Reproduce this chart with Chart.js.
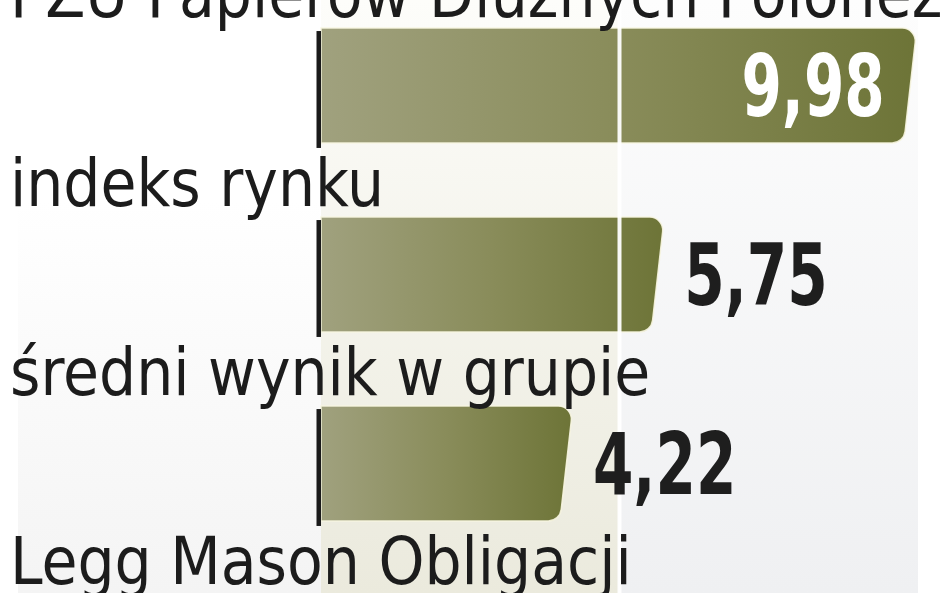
<!DOCTYPE html>
<html>
<head>
<meta charset="utf-8">
<script src="https://cdn.jsdelivr.net/npm/chart.js@4"></script>
<style>
  html, body { margin: 0; padding: 0; background: #ffffff; overflow: hidden; width: 948px; height: 593px; }
  #wrap { position: relative; width: 948px; height: 593px; overflow: hidden; }
  #c { position: absolute; left: 0; top: -9px; }
</style>
</head>
<body>
<div id="wrap"><canvas id="c" width="948" height="756"></canvas></div>
<script>
// ---- data ----
const categories = ['PZU Papierów Dłużnych Polonez', 'indeks rynku', 'średni wynik w grupie', 'Legg Mason Obligacji'];
const values = [9.98, 5.75, 4.22, null];
const xTicks = [0, 5, 10];

// ---- font helpers ----
function hasFont(name) {
  const ctx = document.createElement('canvas').getContext('2d');
  const s = 'abcdefghijklmnopqrstuvwxyz0123456789,';
  ctx.font = '72px monospace';
  const a = ctx.measureText(s).width;
  ctx.font = '72px "' + name + '", monospace';
  return Math.abs(ctx.measureText(s).width - a) > 0.5;
}
const narrow = hasFont('Liberation Sans Narrow');
const valueFamily = narrow ? '"Liberation Sans Narrow"' : '"DejaVu Sans Condensed"';
const valueScaleX = narrow ? 1 : 0.76;
const labelFont = '65px "DejaVu Sans Condensed", "DejaVu Sans", sans-serif';
const valueFont = 'bold 85px ' + valueFamily + ', sans-serif';

function fmt(v) { return v.toFixed(2).replace('.', ','); }

const backgroundPlugin = {
  id: 'bg',
  beforeDraw(chart) {
    const { ctx, scales } = chart;
    const off = 9; // canvas is shifted 9px up
    const H = chart.height;
    const x0 = scales.x.getPixelForValue(xTicks[0]);
    const x5 = scales.x.getPixelForValue(xTicks[1]);
    const x10 = scales.x.getPixelForValue(xTicks[2]);
    ctx.save();
    ctx.fillStyle = '#ffffff';
    ctx.fillRect(0, 0, chart.width, H);
    let g = ctx.createLinearGradient(0, off + 200, 0, off + 593);
    g.addColorStop(0, '#ffffff');
    g.addColorStop(1, '#f4f4f4');
    ctx.fillStyle = g;
    ctx.fillRect(18, 0, x0 - 18, H);
    g = ctx.createLinearGradient(0, off, 0, off + 593);
    g.addColorStop(0, '#fdfdfa');
    g.addColorStop(1, '#ebeadd');
    ctx.fillStyle = g;
    ctx.fillRect(x0, 0, x5 - x0, H);
    g = ctx.createLinearGradient(0, off, 0, off + 593);
    g.addColorStop(0, '#fdfdfd');
    g.addColorStop(1, '#eff0f2');
    ctx.fillStyle = g;
    ctx.fillRect(x5, 0, x10 - x5, H);
    ctx.restore();
  }
};

const barsPlugin = {
  id: 'slantBars',
  afterDatasetsDraw(chart) {
    const { ctx, scales } = chart;
    const meta = chart.getDatasetMeta(0);
    const x5 = scales.x.getPixelForValue(xTicks[1]);
    let barH = 0;
    meta.data.forEach((el, i) => { if (values[i] != null) barH = el.height; });
    const maxV = Math.max(...values.filter(v => v != null));

    meta.data.forEach((el, i) => {
      const v = values[i];
      if (v == null) return;
      const top = el.y - el.height / 2, bot = el.y + el.height / 2;
      const base = el.base, end = el.x;
      const slant = 13, r = 13;
      const g = ctx.createLinearGradient(base, 0, end, 0);
      g.addColorStop(0, '#a0a17e');
      g.addColorStop(0.5, '#898c5a');
      g.addColorStop(1, '#6d7437');
      ctx.save();
      ctx.beginPath();
      ctx.moveTo(base, top);
      ctx.arcTo(end, top, end - slant, bot, r);
      ctx.arcTo(end - slant, bot, base, bot, r);
      ctx.lineTo(base, bot);
      ctx.closePath();
      ctx.fillStyle = g;
      ctx.fill();
      ctx.strokeStyle = 'rgba(248,246,226,0.9)';
      ctx.lineWidth = 1.5;
      ctx.stroke();
      ctx.restore();
    });

    // white gridline at 5
    ctx.save();
    ctx.fillStyle = 'rgba(255,255,255,0.95)';
    ctx.fillRect(x5 - 2, 0, 4, chart.height);
    ctx.restore();

    // black axis segments
    const x0 = scales.x.getPixelForValue(xTicks[0]);
    meta.data.forEach((el, i) => {
      if (values[i] == null) return;
      const top = el.y - el.height / 2, bot = el.y + el.height / 2;
      ctx.save();
      ctx.fillStyle = '#1a1a1a';
      ctx.fillRect(x0 - 4.5, top + 3, 4.5, bot - top + 2);
      ctx.restore();
    });

    // category labels above bars
    ctx.save();
    ctx.font = labelFont;
    ctx.fillStyle = '#1c1c1c';
    ctx.textAlign = 'left';
    ctx.textBaseline = 'alphabetic';
    categories.forEach((c, i) => {
      const cy = scales.y.getPixelForValue(i);
      ctx.fillText(c, 10, cy - barH / 2 - 11);
    });
    ctx.restore();

    // value labels
    meta.data.forEach((el, i) => {
      const v = values[i];
      if (v == null) return;
      const txt = fmt(v);
      const inside = v === maxV;
      ctx.save();
      ctx.font = valueFont;
      ctx.textBaseline = 'alphabetic';
      const yb = el.y + 30;
      if (inside) {
        ctx.fillStyle = '#ffffff';
        ctx.translate(el.x - 32, yb);
        ctx.scale(valueScaleX, 1);
        ctx.textAlign = 'right';
      } else {
        ctx.fillStyle = '#1e1e1e';
        ctx.translate(el.x + 20, yb);
        ctx.scale(valueScaleX, 1);
        ctx.textAlign = 'left';
      }
      ctx.fillText(txt, 0, 0);
      ctx.restore();
    });
  }
};

new Chart(document.getElementById('c'), {
  type: 'bar',
  data: {
    labels: categories,
    datasets: [{
      data: values,
      backgroundColor: 'rgba(0,0,0,0)',
      borderWidth: 0,
      categoryPercentage: 1,
      barPercentage: 0.608
    }]
  },
  options: {
    indexAxis: 'y',
    responsive: false,
    animation: false,
    layout: { padding: { left: 321, right: 30, top: 0, bottom: 0 } },
    scales: {
      x: { type: 'linear', min: xTicks[0], max: xTicks[2], display: false },
      y: { display: false }
    },
    plugins: { legend: { display: false }, tooltip: { enabled: false } }
  },
  plugins: [backgroundPlugin, barsPlugin]
});
</script>
</body>
</html>
